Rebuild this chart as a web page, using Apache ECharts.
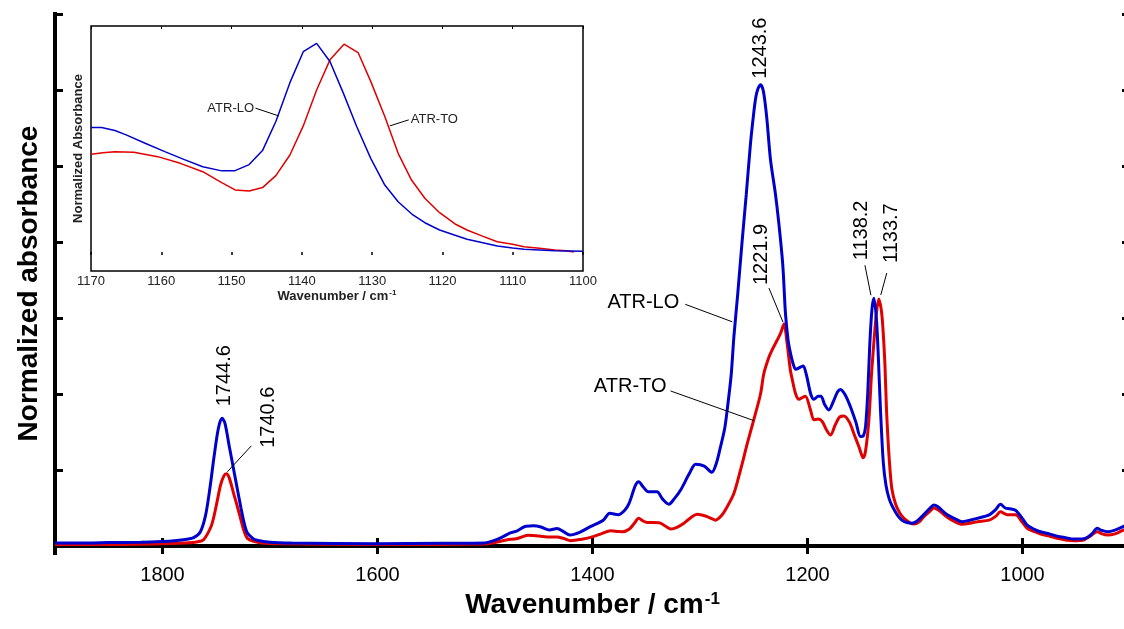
<!DOCTYPE html>
<html>
<head>
<meta charset="utf-8">
<script src="https://cdn.jsdelivr.net/npm/echarts@6/dist/echarts.min.js"></script>
<style>
  html, body { margin: 0; padding: 0; background: #fff; }
  #chart { width: 1124px; height: 629px; }
</style>
</head>
<body>
<div id="chart"></div>
<script>
// ---------- Main spectrum: wavenumber (cm-1) and normalized absorbance ----------
const loWavenumber = [
  1900, 1870, 1850, 1820, 1800, 1789, 1777, 1771, 1765, 1760, 1756, 1752, 1748, 1744.6, 1742, 1738, 1734, 1730, 1727, 1724,
  1721, 1716, 1712, 1700, 1680, 1600, 1540, 1500, 1492, 1485, 1477, 1470, 1462, 1455, 1448, 1440, 1433, 1427, 1421, 1412,
  1402, 1390, 1384, 1376, 1370, 1366, 1360, 1357, 1353, 1348, 1340, 1335, 1329, 1324, 1318, 1310, 1304, 1296, 1289, 1285,
  1281, 1277, 1274.7, 1271, 1268.5, 1265, 1261, 1257, 1253, 1250, 1248, 1246, 1243.6, 1241, 1238, 1234.4, 1230, 1226.7, 1223, 1220.5,
  1218, 1215.8, 1213, 1211, 1207, 1204, 1201, 1197, 1194, 1190, 1187.5, 1184, 1180.2, 1176, 1172, 1169.3, 1165, 1160, 1155, 1150.7,
  1148, 1146, 1144, 1142, 1140, 1138.2, 1135.8, 1134, 1132.1, 1129.5, 1127, 1124, 1121, 1115, 1110, 1103, 1098, 1092, 1086, 1082.5,
  1079, 1070, 1063, 1056, 1049, 1042, 1031, 1025, 1020.5, 1016, 1012, 1006.5, 1000, 995.7, 989, 983.3, 975, 967.8, 960, 952.3,
  943, 938, 935, 930.5, 927, 921, 914, 906, 900
];
const loAbsorbance = [
  0.004, 0.004, 0.0045, 0.005, 0.006, 0.007, 0.009, 0.011, 0.018, 0.040, 0.075, 0.118, 0.155, 0.168, 0.162, 0.132, 0.102, 0.072, 0.050, 0.030,
  0.017, 0.010, 0.0075, 0.005, 0.004, 0.003, 0.0035, 0.004, 0.007, 0.011, 0.017, 0.020, 0.026, 0.0265, 0.025, 0.021, 0.023, 0.019, 0.0145, 0.018,
  0.0254, 0.034, 0.043, 0.041, 0.047, 0.056, 0.080, 0.0846, 0.078, 0.0715, 0.0715, 0.062, 0.055, 0.062, 0.0737, 0.095, 0.1075, 0.105, 0.097, 0.108,
  0.130, 0.155, 0.179, 0.225, 0.275, 0.330, 0.398, 0.462, 0.530, 0.570, 0.591, 0.602, 0.607, 0.598, 0.565, 0.508, 0.465, 0.425, 0.370, 0.306,
  0.270, 0.2535, 0.238, 0.2325, 0.235, 0.237, 0.225, 0.200, 0.193, 0.197, 0.197, 0.186, 0.179, 0.190, 0.203, 0.206, 0.199, 0.183, 0.163, 0.144,
  0.145, 0.157, 0.200, 0.267, 0.312, 0.326, 0.297, 0.245, 0.179, 0.110, 0.080, 0.062, 0.052, 0.038, 0.032, 0.030, 0.033, 0.041, 0.050, 0.054,
  0.052, 0.041, 0.036, 0.032, 0.034, 0.0364, 0.041, 0.048, 0.0548, 0.050, 0.049, 0.047, 0.036, 0.0276, 0.022, 0.0188, 0.016, 0.013, 0.011, 0.0092,
  0.0096, 0.013, 0.0167, 0.0233, 0.021, 0.0188, 0.021, 0.026, 0.030
];

const toWavenumber = [
  1900, 1850, 1800, 1780, 1770, 1762, 1755, 1752, 1749, 1746, 1743, 1740.6, 1738, 1734, 1730, 1727, 1724, 1721, 1715, 1708,
  1690, 1600, 1500, 1492, 1480, 1470, 1460, 1452, 1442, 1433, 1427, 1420, 1410, 1402, 1392, 1383, 1376, 1372, 1366, 1361,
  1357, 1353, 1349, 1338, 1332, 1327, 1321, 1315, 1308, 1302.6, 1295, 1289, 1285.6, 1280, 1274.7, 1268.5, 1262.3, 1256, 1250, 1243.7,
  1240.6, 1236, 1232.9, 1228.2, 1225, 1221.9, 1219, 1216, 1214, 1211, 1208, 1204, 1201.9, 1197, 1194, 1190, 1186.4, 1182, 1178.6, 1174,
  1170, 1166.2, 1161, 1156.9, 1152, 1148.2, 1146, 1142.9, 1140.5, 1138.3, 1136, 1133.7, 1131.5, 1130, 1128, 1126.5, 1124, 1121.5, 1118, 1114,
  1110, 1104, 1101, 1096, 1091.8, 1086, 1082.5, 1078, 1070, 1063, 1056, 1049, 1042, 1031, 1025, 1020.5, 1016, 1012.6, 1006.5, 1000,
  995.7, 989, 983.3, 975, 967.8, 960, 952.3, 943, 937, 930.5, 926, 921, 914, 906, 900
];
const toAbsorbance = [
  0.002, 0.002, 0.003, 0.004, 0.005, 0.008, 0.025, 0.040, 0.060, 0.080, 0.092, 0.095, 0.090, 0.070, 0.050, 0.034, 0.019, 0.010, 0.006, 0.004,
  0.003, 0.002, 0.0025, 0.0043, 0.008, 0.010, 0.014, 0.0135, 0.012, 0.012, 0.010, 0.007, 0.009, 0.0114, 0.016, 0.020, 0.019, 0.0188, 0.022, 0.030,
  0.0364, 0.033, 0.031, 0.0307, 0.026, 0.0224, 0.025, 0.030, 0.038, 0.0417, 0.0395, 0.036, 0.034, 0.040, 0.0517, 0.069, 0.100, 0.135, 0.166, 0.200,
  0.227, 0.248, 0.258, 0.271, 0.280, 0.292, 0.267, 0.232, 0.218, 0.200, 0.193, 0.196, 0.197, 0.178, 0.166, 0.167, 0.164, 0.152, 0.146, 0.160,
  0.170, 0.171, 0.163, 0.148, 0.130, 0.116, 0.125, 0.166, 0.225, 0.267, 0.305, 0.325, 0.312, 0.290, 0.240, 0.179, 0.115, 0.075, 0.055, 0.043,
  0.036, 0.030, 0.029, 0.032, 0.0386, 0.046, 0.050, 0.047, 0.0378, 0.032, 0.0286, 0.030, 0.032, 0.034, 0.039, 0.045, 0.042, 0.041, 0.041, 0.031,
  0.0233, 0.019, 0.0158, 0.013, 0.010, 0.008, 0.007, 0.008, 0.013, 0.0188, 0.016, 0.0145, 0.016, 0.021, 0.024
];

// ---------- Inset: 1170-1100 cm-1 band, normalized to its maximum ----------
const insetLoWavenumber = [
  1170, 1168.5, 1166.6, 1165, 1162.3, 1159.5, 1156.8, 1154.1, 1151.4, 1149.5, 1147.5, 1145.6, 1143.7, 1141.7, 1139.8, 1137.9,
  1136.0, 1134.1, 1132.2, 1130.2, 1128.2, 1126.3, 1124.2, 1122.5, 1120.4, 1118.2, 1116.5, 1114.4, 1112.2, 1110, 1108.4, 1106.2, 1104, 1100
];
const insetLoAbsorbance = [
  0.595, 0.595, 0.581, 0.560, 0.520, 0.480, 0.443, 0.408, 0.388, 0.389, 0.418, 0.485, 0.624, 0.810, 0.958, 0.998,
  0.911, 0.760, 0.600, 0.448, 0.320, 0.240, 0.177, 0.140, 0.105, 0.080, 0.061, 0.045, 0.029, 0.019, 0.013, 0.010, 0.006, 0.003
];
const insetToWavenumber = [
  1170, 1168.3, 1166.6, 1163.9, 1160.5, 1157.3, 1154.1, 1151.4, 1149.5, 1147.5, 1145.6, 1143.7, 1141.7, 1139.8, 1137.9, 1136.0,
  1134.0, 1132.0, 1130.2, 1128.2, 1126.3, 1124.4, 1122.5, 1120.4, 1118.2, 1116.5, 1114.4, 1112.2, 1110, 1108.4, 1106.2, 1104, 1102.4, 1101.3
];
const insetToAbsorbance = [
  0.467, 0.475, 0.480, 0.477, 0.456, 0.424, 0.384, 0.332, 0.297, 0.292, 0.308, 0.365, 0.464, 0.603, 0.775, 0.919,
  0.994, 0.954, 0.816, 0.648, 0.472, 0.344, 0.257, 0.188, 0.134, 0.105, 0.077, 0.049, 0.037, 0.025, 0.018, 0.010, 0.006, 0.000
];

// Tick positions
const mainXTicks = [1000, 1200, 1400, 1600, 1800];
const mainYTicks = [0, 0.1, 0.2, 0.3, 0.4, 0.5, 0.6, 0.7];

// Labelled band maxima (label text is the band position)
const peakMarks = [
  { series: 'lo', wn: 1744.6, dx: 2,   dy: -12, leader: null },
  { series: 'to', wn: 1740.6, dx: 42,  dy: -26, leader: [25, -28, 1, -2] },
  { series: 'lo', wn: 1243.6, dx: 0,   dy: -6,  leader: null },
  { series: 'to', wn: 1221.9, dx: -22, dy: -39, leader: [-15, -36, -1, -2] },
  { series: 'lo', wn: 1138.2, dx: -12, dy: -38, leader: [-9, -33, -3, -3] },
  { series: 'to', wn: 1133.7, dx: 13,  dy: -36, leader: [8, -26, 2, -4] }
];

const FONT = '"Liberation Sans", Arial, Helvetica, sans-serif';
const BLUE = '#0000cc';
const RED = '#e00000';

const zip = (xs, ys) => xs.map((x, i) => [x, ys[i]]);
const plain = (v) => String(v);

const chart = echarts.init(document.getElementById('chart'), null, { renderer: 'canvas' });

const frameLine = { color: '#000', width: 4, cap: 'square' };
const frameTick = { color: '#000', width: 3 };

chart.setOption({
  animation: false,
  backgroundColor: '#fff',
  grid: [
    { left: 55, top: 14, width: 1075, height: 539, show: false, outerBoundsMode: 'none', containLabel: false },
    { left: 91, top: 26, width: 492, height: 245, show: true, backgroundColor: '#fff', borderColor: '#000', borderWidth: 1.5,
      outerBoundsMode: 'none', containLabel: false }
  ],
  xAxis: [
    {
      gridIndex: 0, type: 'value', min: 900, max: 1900, inverse: true, position: 'bottom',
      axisLine: { lineStyle: frameLine },
      axisTick: { inside: true, length: 8, lineStyle: frameTick, customValues: mainXTicks },
      axisLabel: { customValues: mainXTicks, formatter: plain, fontSize: 20, color: '#000', margin: 12, fontFamily: FONT },
      splitLine: { show: false },
      name: '{b|Wavenumber / cm}{s|-1}',
      nameLocation: 'middle', nameGap: 38,
      nameTextStyle: {
        rich: {
          b: { fontSize: 28, fontWeight: 'bold', fontFamily: FONT, color: '#000' },
          s: { fontSize: 17, fontWeight: 'bold', fontFamily: FONT, color: '#000', verticalAlign: 'top', padding: [0, 0, 12, 1] }
        }
      }
    },
    {
      gridIndex: 0, type: 'value', min: 900, max: 1900, inverse: true, position: 'top',
      axisLine: { lineStyle: frameLine },
      axisTick: { inside: true, length: 8, lineStyle: frameTick, customValues: mainXTicks },
      axisLabel: { show: false },
      splitLine: { show: false }
    },
    {
      gridIndex: 1, type: 'value', min: 1100, max: 1170, interval: 10, inverse: true, position: 'bottom',
      axisLine: { show: false },
      axisTick: { inside: false, length: 3, lineStyle: { color: '#000', width: 1.5 } },
      axisLabel: { formatter: plain, fontSize: 13, color: '#222', margin: 4, fontFamily: FONT },
      splitLine: { show: false },
      name: '{b|Wavenumber / cm}{s|-1}',
      nameLocation: 'middle', nameGap: 18,
      nameTextStyle: {
        rich: {
          b: { fontSize: 13, fontWeight: 'bold', fontFamily: FONT, color: '#222' },
          s: { fontSize: 8, fontWeight: 'bold', fontFamily: FONT, color: '#222', verticalAlign: 'top', padding: [0, 0, 6, 1] }
        }
      }
    },
    {
      gridIndex: 1, type: 'value', min: 1100, max: 1170, interval: 10, inverse: true, position: 'top',
      axisLine: { show: false },
      axisTick: { inside: true, length: 3, lineStyle: { color: '#000', width: 1 } },
      axisLabel: { show: false },
      splitLine: { show: false }
    }
  ],
  yAxis: [
    {
      gridIndex: 0, type: 'value', min: -0.0092, max: 0.7, position: 'left',
      axisLine: { lineStyle: frameLine },
      axisTick: { inside: true, length: 8, lineStyle: frameTick, customValues: mainYTicks },
      axisLabel: { show: false },
      splitLine: { show: false },
      name: 'Normalized absorbance', nameLocation: 'middle', nameGap: 12, nameRotate: 90,
      nameTextStyle: { fontSize: 28, fontWeight: 'bold', fontFamily: FONT, color: '#000' }
    },
    {
      gridIndex: 0, type: 'value', min: -0.0092, max: 0.7, position: 'right',
      axisLine: { lineStyle: frameLine },
      axisTick: { inside: true, length: 8, lineStyle: frameTick, customValues: mainYTicks },
      axisLabel: { show: false },
      splitLine: { show: false }
    },
    {
      gridIndex: 1, type: 'value', min: -0.091, max: 1.081, position: 'left',
      axisLine: { show: false }, axisTick: { show: false }, axisLabel: { show: false },
      splitLine: { show: false },
      name: 'Normalized Absorbance', nameLocation: 'middle', nameGap: 6, nameRotate: 90,
      nameTextStyle: { fontSize: 13, fontWeight: 'bold', fontFamily: FONT, color: '#222' }
    }
  ],
  series: [
    {
      name: 'ATR-TO', type: 'line', xAxisIndex: 0, yAxisIndex: 0, data: zip(toWavenumber, toAbsorbance),
      showSymbol: false, smooth: 0.3, lineStyle: { color: RED, width: 3 }, z: 3
    },
    {
      name: 'ATR-LO', type: 'line', xAxisIndex: 0, yAxisIndex: 0, data: zip(loWavenumber, loAbsorbance),
      showSymbol: false, smooth: 0.3, lineStyle: { color: BLUE, width: 3 }, z: 4
    },
    {
      name: 'ATR-TO inset', type: 'line', xAxisIndex: 2, yAxisIndex: 2, data: zip(insetToWavenumber, insetToAbsorbance),
      showSymbol: false, smooth: false, lineStyle: { color: RED, width: 1.5 }, z: 3
    },
    {
      name: 'ATR-LO inset', type: 'line', xAxisIndex: 2, yAxisIndex: 2, data: zip(insetLoWavenumber, insetLoAbsorbance),
      showSymbol: false, smooth: false, lineStyle: { color: BLUE, width: 1.5 }, z: 4
    }
  ]
});

// ---------- Annotations placed from data coordinates ----------
const mainPx = (p) => chart.convertToPixel({ xAxisIndex: 0, yAxisIndex: 0 }, p);
const insetPx = (p) => chart.convertToPixel({ xAxisIndex: 2, yAxisIndex: 2 }, p);
const seriesData = {
  lo: [loWavenumber, loAbsorbance],
  to: [toWavenumber, toAbsorbance]
};

const graphics = [];
const addLine = (a, b, w) => graphics.push({
  type: 'line', z: 10, silent: true,
  shape: { x1: a[0], y1: a[1], x2: b[0], y2: b[1] },
  style: { stroke: '#000', lineWidth: w || 1 }
});
const addText = (pos, text, opts) => graphics.push({
  type: 'text', z: 10, silent: true, x: pos[0], y: pos[1], rotation: opts.rotation || 0,
  style: {
    text: text, fill: opts.color || '#000', fontSize: opts.size, fontFamily: FONT,
    align: opts.align || 'left', verticalAlign: 'middle'
  }
});

peakMarks.forEach((m) => {
  const [xs, ys] = seriesData[m.series];
  const idx = xs.indexOf(m.wn);
  const p = mainPx([m.wn, ys[idx]]);
  addText([p[0] + m.dx, p[1] + m.dy], m.wn.toFixed(1), { size: 20, rotation: Math.PI / 2 });
  if (m.leader) {
    const l = m.leader;
    addLine([p[0] + l[0], p[1] + l[1]], [p[0] + l[2], p[1] + l[3]], 1);
  }
});

// Curve names with leader lines (main plot)
const curveNames = [
  { text: 'ATR-LO', label: [1319.3, 0.321], from: [1313.7, 0.318], to: [1270.0, 0.295] },
  { text: 'ATR-TO', label: [1331.2, 0.2096], from: [1327.4, 0.204], to: [1249.9, 0.165] }
];
curveNames.forEach((c) => {
  addText(mainPx(c.label), c.text, { size: 20, align: 'right' });
  addLine(mainPx(c.from), mainPx(c.to), 1);
});

// Curve names with leader lines (inset)
const insetNames = [
  { text: 'ATR-LO', label: [1146.8, 0.689], align: 'right', from: [1146.6, 0.688], to: [1143.3, 0.651] },
  { text: 'ATR-TO', label: [1124.5, 0.636], align: 'left', from: [1124.8, 0.632], to: [1127.5, 0.603] }
];
insetNames.forEach((c) => {
  addText(insetPx(c.label), c.text, { size: 13, align: c.align, color: '#222' });
  addLine(insetPx(c.from), insetPx(c.to), 1);
});

chart.setOption({ graphic: graphics });
</script>
</body>
</html>
